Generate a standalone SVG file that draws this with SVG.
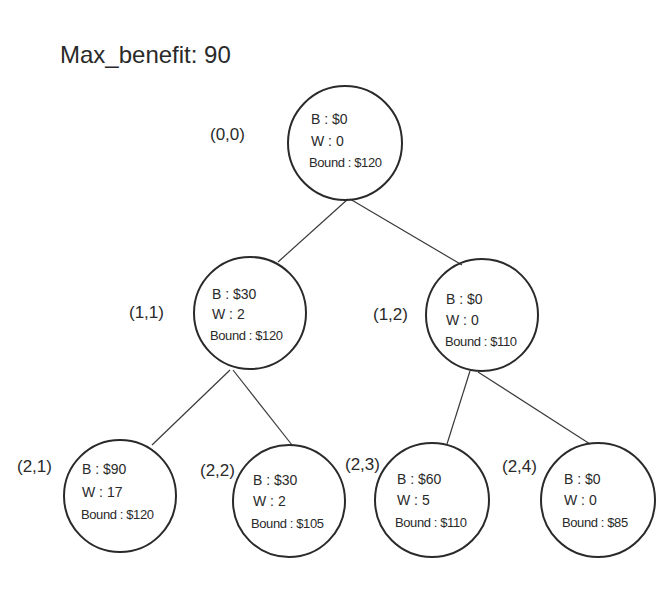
<svg xmlns="http://www.w3.org/2000/svg" width="670" height="596" viewBox="0 0 670 596">
<style>
.n{fill:none;stroke:#2a2a2a;stroke-width:2}
.c line{stroke:#3a3a3a;stroke-width:1.2}
.t{font-family:"Liberation Sans",sans-serif;font-size:14px;fill:#2a2a2a}
.b{font-family:"Liberation Sans",sans-serif;font-size:13px;letter-spacing:-0.4px;fill:#2a2a2a}
.l{font-family:"Liberation Sans",sans-serif;font-size:17px;fill:#2a2a2a}
.h{font-family:"Liberation Sans",sans-serif;font-size:24px;fill:#2a2a2a}
</style>
<rect width="670" height="596" fill="#fff"/>
<text class="h" x="60" y="63">Max_benefit: 90</text>
<g class="c" id="connectors">
<line x1="348" y1="199" x2="278" y2="262"/>
<line x1="350" y1="199" x2="462" y2="265"/>
<line x1="230" y1="370" x2="152" y2="445"/>
<line x1="233" y1="370" x2="292" y2="445"/>
<line x1="470" y1="371" x2="447" y2="444"/>
<line x1="478" y1="372" x2="590" y2="444"/>
</g>
<g id="n00"><circle class="n" cx="345" cy="143" r="57"/><text class="l" x="210" y="140">(0,0)</text>
<text class="t" x="311" y="124">B : $0</text><text class="t" x="311" y="146">W : 0</text><text class="b" x="309" y="167">Bound : $120</text></g>
<g id="n11"><circle class="n" cx="250" cy="313" r="56"/><text class="l" x="129" y="318">(1,1)</text>
<text class="t" x="212" y="299">B : $30</text><text class="t" x="212" y="319">W : 2</text><text class="b" x="210" y="340">Bound : $120</text></g>
<g id="n12"><circle class="n" cx="482" cy="315" r="56"/><text class="l" x="373" y="320">(1,2)</text>
<text class="t" x="446" y="304">B : $0</text><text class="t" x="446" y="325">W : 0</text><text class="b" x="445" y="346">Bound : $110</text></g>
<g id="n21"><circle class="n" cx="120" cy="496" r="56"/><text class="l" x="17" y="472">(2,1)</text>
<text class="t" x="82" y="474">B : $90</text><text class="t" x="82" y="497">W : 17</text><text class="b" x="81" y="519">Bound : $120</text></g>
<g id="n22"><circle class="n" cx="289" cy="501" r="56"/><text class="l" x="200" y="476">(2,2)</text>
<text class="t" x="253" y="485">B : $30</text><text class="t" x="253" y="506">W : 2</text><text class="b" x="251" y="528">Bound : $105</text></g>
<g id="n23"><circle class="n" cx="432" cy="500" r="57"/><text class="l" x="345" y="470">(2,3)</text>
<text class="t" x="397" y="484">B : $60</text><text class="t" x="397" y="505">W : 5</text><text class="b" x="395" y="527">Bound : $110</text></g>
<g id="n24"><circle class="n" cx="598" cy="500" r="57"/><text class="l" x="502" y="472">(2,4)</text>
<text class="t" x="564" y="484">B : $0</text><text class="t" x="564" y="505">W : 0</text><text class="b" x="562" y="527">Bound : $85</text></g>
</svg>
